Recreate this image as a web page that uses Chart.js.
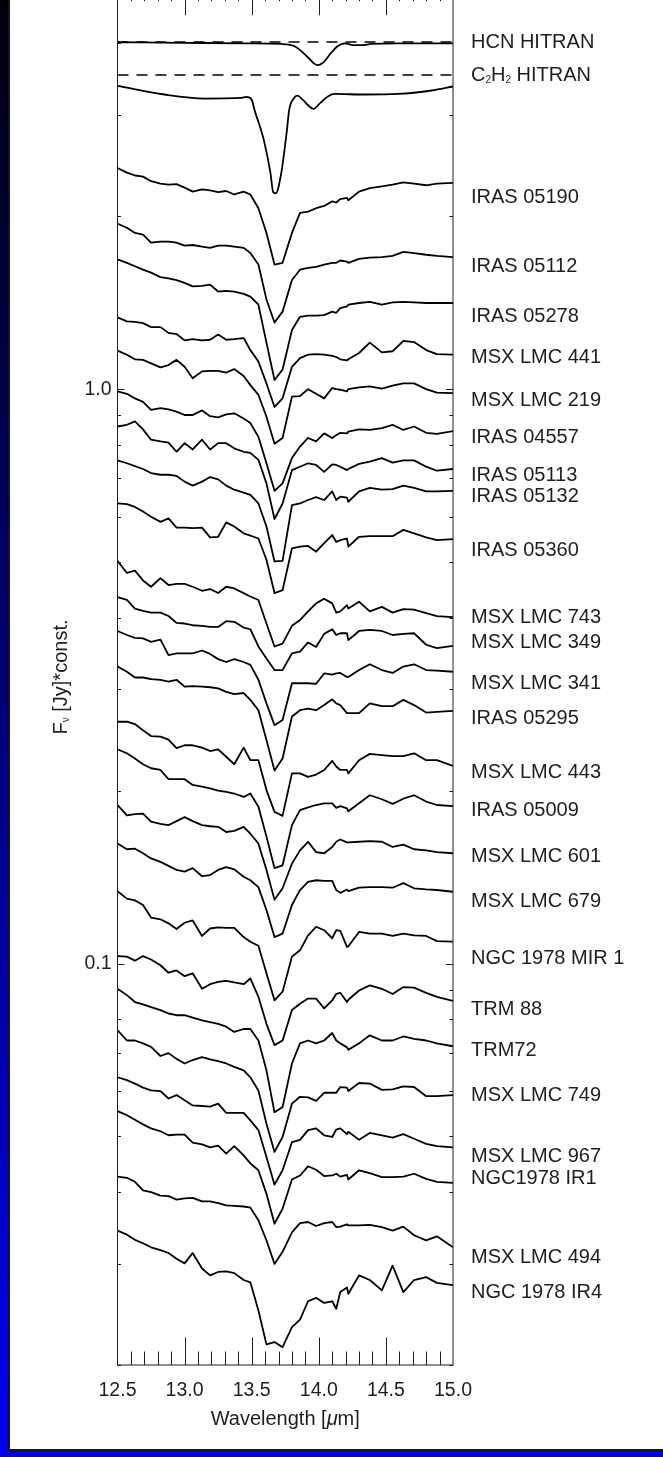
<!DOCTYPE html>
<html>
<head>
<meta charset="utf-8">
<script src="https://cdn.jsdelivr.net/npm/chart.js@4.4.0/dist/chart.umd.min.js"></script>
<style>
  html, body { margin: 0; padding: 0; background: #fff; }
  body { width: 663px; height: 1457px; position: relative; overflow: hidden; }
  #edgeLeft { position: absolute; left: 0; top: 0; width: 8px; height: 1457px; background: linear-gradient(#00000c, #0000f0); }
  #edgeLine { position: absolute; left: 8px; top: 0; width: 2px; height: 1451px; background: #161616; }
  #edgeBottom { position: absolute; left: 0; top: 1451px; width: 663px; height: 6px; background: #0000ec; }
  #edgeBottomLine { position: absolute; left: 8px; top: 1449px; width: 655px; height: 2px; background: #161616; }
  #wrap { position: absolute; left: 0; top: -30px; width: 663px; height: 1487px; }
</style>
</head>
<body>
<div id="edgeLeft"></div>
<div id="edgeLine"></div>
<div id="edgeBottomLine"></div>
<div id="edgeBottom"></div>
<div id="wrap"><canvas id="spectra"></canvas></div>
<script>
// ===== data: wavelength grid [micron] and log10(F_nu * const) per source =====
const WAVE = [12.50, 12.57, 12.63, 12.69, 12.75, 12.82, 12.88, 12.94, 13.00, 13.06,
              13.13, 13.19, 13.25, 13.31, 13.37, 13.44, 13.49, 13.55, 13.61, 13.67,
              13.73, 13.80, 13.86, 13.92, 13.98, 14.04, 14.10, 14.13, 14.16, 14.21,
              14.22, 14.30, 14.38, 14.47, 14.55, 14.63, 14.71, 14.80, 14.88, 15.00];

// HITRAN model spectra (own wavelength sampling)
const HCN_WAVE = [12.50, 12.98, 13.47, 13.72, 13.82, 13.90, 13.96, 13.99, 14.03, 14.09, 14.14, 14.19, 14.27, 14.32, 14.39, 14.59, 15.00];
const HCN_FLUX = [0.604, 0.603, 0.602, 0.601, 0.597, 0.582, 0.568, 0.564, 0.568, 0.585, 0.597, 0.602, 0.599, 0.599, 0.601, 0.602, 0.602];
const HCN_CONT = 0.6045;

const C2H2_WAVE = [12.50, 12.85, 13.15, 13.42, 13.46, 13.50, 13.52, 13.59, 13.64, 13.66, 13.68, 13.72, 13.76,
                   13.78, 13.82, 13.84, 13.88, 13.93, 13.96, 14.01, 14.07, 14.12, 14.34, 14.59, 14.84, 15.00];
const C2H2_FLUX = [0.528, 0.513, 0.506, 0.507, 0.509, 0.504, 0.487, 0.434, 0.376, 0.343, 0.341, 0.376, 0.446,
                   0.487, 0.508, 0.511, 0.504, 0.492, 0.488, 0.498, 0.510, 0.514, 0.513, 0.514, 0.520, 0.527];
const C2H2_CONT = 0.547;

const IRAS_05190 = [0.385, 0.377, 0.372, 0.370, 0.362, 0.358, 0.356, 0.357, 0.351, 0.344, 0.348, 0.346, 0.343, 0.345, 0.339, 0.344, 0.339, 0.315, 0.272, 0.217, 0.220, 0.272, 0.307, 0.309, 0.315, 0.319, 0.327, 0.325, 0.331, 0.333, 0.329, 0.344, 0.350, 0.353, 0.356, 0.360, 0.358, 0.355, 0.358, 0.359];
const IRAS_05112 = [0.288, 0.281, 0.272, 0.269, 0.255, 0.257, 0.257, 0.255, 0.250, 0.251, 0.248, 0.246, 0.250, 0.250, 0.248, 0.246, 0.237, 0.217, 0.156, 0.116, 0.135, 0.190, 0.208, 0.211, 0.213, 0.217, 0.220, 0.220, 0.224, 0.222, 0.220, 0.227, 0.229, 0.230, 0.232, 0.239, 0.237, 0.234, 0.232, 0.230];
const IRAS_05278 = [0.226, 0.220, 0.214, 0.208, 0.203, 0.195, 0.193, 0.190, 0.185, 0.179, 0.180, 0.182, 0.170, 0.171, 0.170, 0.166, 0.161, 0.147, 0.081, 0.016, 0.034, 0.103, 0.126, 0.128, 0.128, 0.129, 0.135, 0.133, 0.141, 0.144, 0.147, 0.150, 0.152, 0.147, 0.151, 0.152, 0.151, 0.150, 0.150, 0.150];
const MSX_LMC_441 = [0.125, 0.118, 0.117, 0.115, 0.108, 0.108, 0.098, 0.096, 0.085, 0.087, 0.085, 0.086, 0.095, 0.086, 0.087, 0.089, 0.068, 0.048, 0.010, -0.031, -0.016, 0.039, 0.054, 0.060, 0.061, 0.060, 0.058, 0.056, 0.052, 0.050, 0.052, 0.063, 0.081, 0.064, 0.066, 0.084, 0.082, 0.068, 0.061, 0.060];
const MSX_LMC_219 = [0.067, 0.060, 0.052, 0.051, 0.045, 0.038, 0.042, 0.051, 0.039, 0.019, 0.031, 0.032, 0.032, 0.029, 0.035, 0.023, 0.007, -0.010, -0.048, -0.095, -0.085, -0.013, -0.012, 0.000, -0.008, -0.016, 0.002, 0.000, -0.001, -0.004, 0.000, 0.003, 0.005, 0.001, 0.006, 0.010, 0.010, 0.000, -0.006, -0.007];
const IRAS_04557 = [-0.004, -0.008, -0.016, -0.022, -0.036, -0.033, -0.035, -0.039, -0.045, -0.045, -0.037, -0.047, -0.049, -0.044, -0.042, -0.051, -0.059, -0.083, -0.129, -0.177, -0.164, -0.120, -0.100, -0.085, -0.091, -0.077, -0.085, -0.080, -0.076, -0.077, -0.074, -0.070, -0.071, -0.068, -0.062, -0.071, -0.065, -0.076, -0.078, -0.073];
const IRAS_05113 = [-0.065, -0.062, -0.056, -0.070, -0.088, -0.091, -0.093, -0.109, -0.094, -0.105, -0.088, -0.105, -0.094, -0.094, -0.103, -0.109, -0.111, -0.123, -0.164, -0.226, -0.199, -0.141, -0.135, -0.129, -0.132, -0.144, -0.131, -0.132, -0.135, -0.141, -0.139, -0.130, -0.126, -0.120, -0.128, -0.124, -0.124, -0.135, -0.142, -0.139];
const IRAS_05132 = [-0.124, -0.129, -0.134, -0.139, -0.146, -0.149, -0.149, -0.151, -0.161, -0.168, -0.161, -0.153, -0.157, -0.168, -0.175, -0.180, -0.184, -0.199, -0.239, -0.300, -0.299, -0.202, -0.199, -0.193, -0.188, -0.193, -0.178, -0.193, -0.187, -0.189, -0.196, -0.178, -0.172, -0.175, -0.174, -0.168, -0.172, -0.178, -0.178, -0.177];
const IRAS_05360 = [-0.199, -0.200, -0.205, -0.213, -0.222, -0.231, -0.225, -0.241, -0.241, -0.242, -0.241, -0.258, -0.257, -0.232, -0.239, -0.251, -0.255, -0.260, -0.297, -0.355, -0.350, -0.277, -0.274, -0.273, -0.283, -0.268, -0.254, -0.266, -0.263, -0.260, -0.274, -0.257, -0.256, -0.256, -0.256, -0.245, -0.251, -0.258, -0.263, -0.261];
const MSX_LMC_743 = [-0.299, -0.320, -0.316, -0.333, -0.344, -0.329, -0.341, -0.339, -0.339, -0.344, -0.351, -0.348, -0.355, -0.344, -0.347, -0.355, -0.361, -0.367, -0.408, -0.448, -0.443, -0.412, -0.402, -0.387, -0.373, -0.365, -0.373, -0.389, -0.387, -0.376, -0.382, -0.370, -0.387, -0.379, -0.389, -0.383, -0.384, -0.390, -0.395, -0.397];
const MSX_LMC_349 = [-0.362, -0.367, -0.382, -0.386, -0.389, -0.389, -0.395, -0.407, -0.408, -0.411, -0.412, -0.414, -0.414, -0.404, -0.405, -0.415, -0.418, -0.448, -0.469, -0.489, -0.489, -0.460, -0.457, -0.441, -0.449, -0.426, -0.418, -0.428, -0.425, -0.425, -0.437, -0.421, -0.419, -0.421, -0.428, -0.426, -0.425, -0.445, -0.451, -0.447];
const MSX_LMC_341 = [-0.421, -0.428, -0.433, -0.434, -0.440, -0.436, -0.463, -0.460, -0.460, -0.460, -0.455, -0.461, -0.470, -0.475, -0.470, -0.475, -0.480, -0.506, -0.547, -0.585, -0.576, -0.512, -0.512, -0.512, -0.513, -0.495, -0.497, -0.495, -0.494, -0.501, -0.501, -0.489, -0.479, -0.489, -0.494, -0.483, -0.479, -0.489, -0.490, -0.492];
const IRAS_05295 = [-0.483, -0.492, -0.502, -0.502, -0.505, -0.506, -0.509, -0.506, -0.518, -0.517, -0.518, -0.519, -0.521, -0.527, -0.531, -0.529, -0.541, -0.559, -0.611, -0.664, -0.643, -0.570, -0.559, -0.556, -0.559, -0.550, -0.540, -0.547, -0.550, -0.564, -0.564, -0.564, -0.547, -0.552, -0.552, -0.541, -0.550, -0.563, -0.562, -0.560];
const MSX_LMC_443 = [-0.579, -0.579, -0.583, -0.594, -0.604, -0.605, -0.610, -0.625, -0.620, -0.620, -0.624, -0.630, -0.627, -0.640, -0.653, -0.624, -0.646, -0.646, -0.698, -0.736, -0.743, -0.669, -0.669, -0.675, -0.671, -0.663, -0.647, -0.657, -0.663, -0.663, -0.669, -0.646, -0.635, -0.637, -0.639, -0.639, -0.634, -0.646, -0.646, -0.656];
const IRAS_05009 = [-0.627, -0.634, -0.643, -0.653, -0.660, -0.663, -0.679, -0.679, -0.679, -0.689, -0.692, -0.695, -0.699, -0.701, -0.704, -0.710, -0.704, -0.727, -0.779, -0.834, -0.829, -0.759, -0.733, -0.728, -0.724, -0.721, -0.721, -0.729, -0.726, -0.730, -0.735, -0.721, -0.707, -0.714, -0.722, -0.713, -0.707, -0.718, -0.724, -0.726];
const MSX_LMC_601 = [-0.724, -0.742, -0.740, -0.739, -0.753, -0.757, -0.759, -0.752, -0.745, -0.752, -0.759, -0.761, -0.762, -0.771, -0.769, -0.762, -0.774, -0.791, -0.837, -0.889, -0.869, -0.826, -0.803, -0.788, -0.806, -0.808, -0.797, -0.788, -0.784, -0.789, -0.789, -0.788, -0.787, -0.788, -0.797, -0.793, -0.801, -0.803, -0.806, -0.808];
const MSX_LMC_679 = [-0.791, -0.801, -0.800, -0.808, -0.817, -0.823, -0.830, -0.837, -0.840, -0.834, -0.848, -0.846, -0.837, -0.832, -0.836, -0.849, -0.855, -0.867, -0.907, -0.954, -0.948, -0.898, -0.872, -0.858, -0.855, -0.856, -0.856, -0.872, -0.877, -0.871, -0.874, -0.868, -0.867, -0.867, -0.868, -0.860, -0.869, -0.871, -0.872, -0.875];
const NGC_1978_MIR1 = [-0.874, -0.887, -0.890, -0.898, -0.920, -0.923, -0.930, -0.940, -0.929, -0.925, -0.952, -0.939, -0.937, -0.938, -0.938, -0.954, -0.962, -0.969, -1.017, -1.064, -1.049, -0.988, -0.977, -0.951, -0.936, -0.942, -0.956, -0.942, -0.943, -0.971, -0.970, -0.945, -0.948, -0.948, -0.952, -0.948, -0.951, -0.952, -0.961, -0.962];
const TRM_88 = [-0.987, -0.988, -0.995, -0.987, -0.993, -1.003, -1.016, -1.012, -1.022, -1.017, -1.044, -1.036, -1.032, -1.030, -1.033, -1.036, -1.026, -1.058, -1.105, -1.142, -1.134, -1.081, -1.070, -1.061, -1.061, -1.078, -1.064, -1.053, -1.051, -1.067, -1.063, -1.047, -1.038, -1.044, -1.053, -1.041, -1.042, -1.051, -1.058, -1.065];
const TRM_72 = [-1.044, -1.055, -1.067, -1.071, -1.076, -1.081, -1.087, -1.090, -1.090, -1.094, -1.099, -1.102, -1.105, -1.110, -1.119, -1.114, -1.114, -1.134, -1.186, -1.259, -1.250, -1.174, -1.139, -1.134, -1.139, -1.134, -1.121, -1.134, -1.139, -1.146, -1.150, -1.139, -1.125, -1.134, -1.134, -1.127, -1.131, -1.134, -1.139, -1.144];
const MSX_LMC_749 = [-1.116, -1.134, -1.134, -1.139, -1.145, -1.161, -1.156, -1.166, -1.174, -1.168, -1.163, -1.167, -1.170, -1.174, -1.180, -1.186, -1.198, -1.221, -1.279, -1.328, -1.302, -1.244, -1.232, -1.233, -1.239, -1.225, -1.225, -1.225, -1.215, -1.216, -1.222, -1.208, -1.209, -1.220, -1.219, -1.214, -1.215, -1.231, -1.231, -1.229];
const MSX_LMC_967 = [-1.198, -1.203, -1.209, -1.216, -1.221, -1.222, -1.235, -1.229, -1.238, -1.247, -1.248, -1.249, -1.244, -1.260, -1.260, -1.260, -1.273, -1.290, -1.337, -1.385, -1.360, -1.311, -1.307, -1.290, -1.287, -1.299, -1.302, -1.289, -1.287, -1.297, -1.293, -1.307, -1.295, -1.299, -1.303, -1.297, -1.305, -1.314, -1.318, -1.320];
const NGC1978_IR1 = [-1.257, -1.264, -1.272, -1.280, -1.287, -1.292, -1.299, -1.298, -1.298, -1.312, -1.315, -1.320, -1.317, -1.331, -1.318, -1.334, -1.348, -1.360, -1.401, -1.453, -1.427, -1.376, -1.369, -1.353, -1.359, -1.370, -1.369, -1.366, -1.371, -1.368, -1.376, -1.360, -1.365, -1.372, -1.372, -1.371, -1.366, -1.375, -1.380, -1.382];
const MSX_LMC_494 = [-1.371, -1.373, -1.380, -1.395, -1.398, -1.404, -1.405, -1.411, -1.409, -1.408, -1.414, -1.414, -1.417, -1.421, -1.422, -1.423, -1.425, -1.447, -1.482, -1.523, -1.502, -1.468, -1.452, -1.450, -1.457, -1.452, -1.450, -1.459, -1.458, -1.454, -1.456, -1.456, -1.455, -1.459, -1.465, -1.458, -1.473, -1.482, -1.475, -1.494];
const NGC_1978_IR4 = [-1.465, -1.472, -1.481, -1.487, -1.494, -1.499, -1.504, -1.514, -1.522, -1.504, -1.531, -1.543, -1.537, -1.536, -1.539, -1.551, -1.555, -1.604, -1.663, -1.659, -1.668, -1.633, -1.620, -1.588, -1.582, -1.591, -1.588, -1.601, -1.572, -1.564, -1.575, -1.543, -1.551, -1.569, -1.526, -1.572, -1.551, -1.546, -1.556, -1.560];

const OBSERVED = [IRAS_05190, IRAS_05112, IRAS_05278, MSX_LMC_441, MSX_LMC_219, IRAS_04557,
  IRAS_05113, IRAS_05132, IRAS_05360, MSX_LMC_743, MSX_LMC_349, MSX_LMC_341, IRAS_05295,
  MSX_LMC_443, IRAS_05009, MSX_LMC_601, MSX_LMC_679, NGC_1978_MIR1, TRM_88, TRM_72,
  MSX_LMC_749, MSX_LMC_967, NGC1978_IR1, MSX_LMC_494, NGC_1978_IR4];

// axis ticks
const X_TICK_LABELS = [12.5, 13.0, 13.5, 14.0, 14.5, 15.0];
const Y_TICK_LABELS = [0.1, 1.0];
const Y_TICKS = [0.02, 0.03, 0.04, 0.05, 0.06, 0.07, 0.08, 0.09, 0.1, 0.2, 0.3, 0.4, 0.5, 0.6, 0.7, 0.8, 0.9, 1, 2, 3, 4, 5];

// source names on the right (page y of each label)
const NAMES = ['HCN HITRAN', 'C2H2 HITRAN', 'IRAS 05190', 'IRAS 05112', 'IRAS 05278', 'MSX LMC 441',
  'MSX LMC 219', 'IRAS 04557', 'IRAS 05113', 'IRAS 05132', 'IRAS 05360', 'MSX LMC 743', 'MSX LMC 349',
  'MSX LMC 341', 'IRAS 05295', 'MSX LMC 443', 'IRAS 05009', 'MSX LMC 601', 'MSX LMC 679',
  'NGC 1978 MIR 1', 'TRM 88', 'TRM72', 'MSX LMC 749', 'MSX LMC 967', 'NGC1978 IR1', 'MSX LMC 494', 'NGC 1978 IR4'];
const NAME_Y = [42, 75, 197, 266, 316, 357, 400, 437, 475, 496, 550, 617, 642, 683, 718, 772, 810,
  856, 901, 958, 1009, 1050, 1095, 1156, 1178, 1257, 1292];

// ===== layout =====
const SHIFT = 30;   // canvas starts above the page so the top edge of the frame is cut off
const FONT = '"Liberation Sans", Arial, Helvetica, sans-serif';
const INK = '#1e1e1e';
const TXT = 20;

function pairs(xs, ys) {
  return xs.map((x, i) => ({ x: x, y: ys[i] }));
}

const datasets = [];
datasets.push({ data: pairs([12.5, 15.0], [HCN_CONT, HCN_CONT]), borderDash: [11, 8], borderWidth: 1.6 });
datasets.push({ data: pairs(HCN_WAVE, HCN_FLUX), cubicInterpolationMode: 'monotone' });
datasets.push({ data: pairs([12.5, 15.0], [C2H2_CONT, C2H2_CONT]), borderDash: [11, 8], borderWidth: 1.6 });
datasets.push({ data: pairs(C2H2_WAVE, C2H2_FLUX), cubicInterpolationMode: 'monotone' });
OBSERVED.forEach(s => datasets.push({ data: pairs(WAVE, s) }));
datasets.forEach(d => {
  d.borderColor = '#000';
  if (!d.borderWidth) d.borderWidth = 1.8;
  d.pointRadius = 0;
  d.borderJoinStyle = 'round';
  d.fill = false;
});

// draw a string made of parts [text, font, dy]
function richWidth(ctx, parts) {
  let w = 0;
  parts.forEach(p => { ctx.font = p[1]; w += ctx.measureText(p[0]).width; });
  return w;
}
function richText(ctx, x, y, parts) {
  let cx = x;
  parts.forEach(p => {
    ctx.font = p[1];
    ctx.fillText(p[0], cx, y + p[2]);
    cx += ctx.measureText(p[0]).width;
  });
}

const framePlugin = {
  id: 'frame',
  afterDraw(chart) {
    const { ctx, chartArea: a, scales: { x, y } } = chart;
    ctx.save();
    ctx.strokeStyle = INK;
    ctx.lineWidth = 1;
    ctx.strokeRect(a.left, a.top, a.right - a.left, a.bottom - a.top);

    // inward ticks, wavelength axis: major every 0.5, minor every 0.1
    ctx.beginPath();
    for (let i = 1; i < 25; i++) {
      const px = Math.round(x.getPixelForValue(12.5 + i * 0.1)) + 0.5;
      const len = i % 5 === 0 ? 27.5 : 13.5;
      ctx.moveTo(px, a.bottom); ctx.lineTo(px, a.bottom - len);
      ctx.moveTo(px, a.top); ctx.lineTo(px, a.top + len);
    }
    // flux axis, log ticks
    Y_TICKS.forEach(v => {
      const py = Math.round(y.getPixelForValue(Math.log10(v))) + 0.5;
      const len = Y_TICK_LABELS.includes(v) ? 7 : 3.5;
      ctx.moveTo(a.left, py); ctx.lineTo(a.left + len, py);
      ctx.moveTo(a.right, py); ctx.lineTo(a.right - len, py);
    });
    ctx.stroke();

    // source names
    ctx.fillStyle = INK;
    ctx.textBaseline = 'middle';
    ctx.textAlign = 'left';
    const f = TXT + 'px ' + FONT, fs = '10px ' + FONT;
    NAMES.forEach((n, i) => {
      const py = NAME_Y[i] + SHIFT;
      if (n === 'C2H2 HITRAN') {
        richText(ctx, 471, py, [['C', f, 0], ['2', fs, 5], ['H', f, 0], ['2', fs, 5], [' HITRAN', f, 0]]);
      } else {
        ctx.font = f;
        ctx.fillText(n, 471, py);
      }
    });

    // axis titles
    const xt = [['Wavelength [', f, 0], ['\u03bc', 'italic ' + TXT + 'px ' + FONT, 0], ['m]', f, 0]];
    const cx = (a.left + a.right) / 2;
    richText(ctx, cx - richWidth(ctx, xt) / 2, 1419 + SHIFT, xt);

    const yt = [['F', f, 0], ['\u03bd', fs, 5], [' [Jy]*const.', f, 0]];
    ctx.translate(61, 677 + SHIFT);
    ctx.rotate(-Math.PI / 2);
    richText(ctx, -richWidth(ctx, yt) / 2, 0, yt);
    ctx.restore();
  }
};

new Chart(document.getElementById('spectra'), {
  type: 'line',
  data: { datasets: datasets },
  options: {
    responsive: true,
    maintainAspectRatio: false,
    animation: false,
    layout: { padding: { top: 17, right: 210, left: 0, bottom: 0 } },
    plugins: { legend: { display: false }, tooltip: { enabled: false } },
    scales: {
      x: {
        type: 'linear', min: 12.5, max: 15.0,
        grid: { display: false, drawTicks: false }, border: { display: false },
        afterBuildTicks: s => { s.ticks = X_TICK_LABELS.map(v => ({ value: v })); },
        afterFit: s => { s.height = 92; },
        ticks: { padding: 14, color: INK, maxRotation: 0, autoSkip: false,
                 font: { family: FONT, size: 19.5 }, callback: v => Number(v).toFixed(1) }
      },
      y: {
        type: 'linear', min: Math.log10(0.02), max: Math.log10(5),
        grid: { display: false, drawTicks: false }, border: { display: false },
        afterBuildTicks: s => { s.ticks = Y_TICK_LABELS.map(v => ({ value: Math.log10(v) })); },
        afterFit: s => { s.width = 117.5; },
        ticks: { padding: 6, color: INK, font: { family: FONT, size: 19.5 },
                 callback: v => Math.pow(10, v).toFixed(1) }
      }
    }
  },
  plugins: [framePlugin]
});
</script>
</body>
</html>
